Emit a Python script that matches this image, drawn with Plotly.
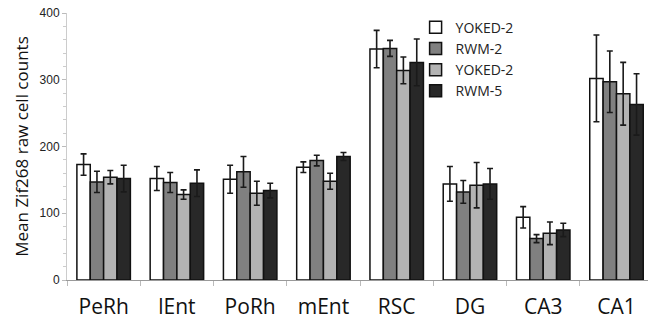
import plotly.graph_objects as go

regions = ["PeRh", "lEnt", "PoRh", "mEnt", "RSC", "DG", "CA3", "CA1"]
series_names = ["YOKED-2", "RWM-2", "YOKED-2", "RWM-5"]
yoked2_a = [173, 152, 151, 169, 346, 144, 94, 302]
yoked2_a_err = [16, 18, 21, 8, 28, 26, 16, 65]
rwm2 = [147, 146, 162, 179, 347, 132, 62, 297]
rwm2_err = [16, 15, 23, 8, 12, 17, 6, 46]
yoked2_b = [154, 128, 130, 148, 314, 142, 70, 279]
yoked2_b_err = [10, 7, 18, 12, 20, 34, 17, 47]
rwm5 = [152, 145, 134, 185, 326, 144, 75, 263]
rwm5_err = [20, 20, 11, 6, 35, 23, 10, 46]

values = [yoked2_a, rwm2, yoked2_b, rwm5]
errors = [yoked2_a_err, rwm2_err, yoked2_b_err, rwm5_err]
colors = ["#ffffff", "#808080", "#b3b3b3", "#282828"]

fig = go.Figure()
for name, vals, errs, col in zip(series_names, values, errors, colors):
    fig.add_trace(go.Bar(
        x=regions, y=vals, name=name,
        marker=dict(color=col, line=dict(color="#111111", width=1.5)),
        error_y=dict(type="data", array=errs, visible=True,
                     color="#1a1a1a", thickness=1.6, width=3),
    ))

fig.update_layout(
    width=648, height=325,
    margin=dict(l=67, r=0, t=13, b=45),
    paper_bgcolor="white", plot_bgcolor="white",
    barmode="group", bargap=0.27, bargroupgap=0,
    showlegend=True,
    legend=dict(x=0.6, y=1.005, xanchor="left", yanchor="top",
                font=dict(family="Open Sans", size=14, color="#222222"),
                bgcolor="rgba(0,0,0,0)", itemwidth=30, tracegroupgap=0),
    font=dict(family="Liberation Sans", color="#222222"),
)
fig.update_xaxes(
    type="category", range=[-0.5, 7.43], automargin=False,
    showline=True, linecolor="#999999", linewidth=1,
    ticks="outside", tickson="boundaries", ticklen=5, tickcolor="#bbbbbb",
    tickfont=dict(family="Open Sans", size=21, color="#111111"),
    ticklabelstandoff=8,
    showgrid=False,
)
fig.update_yaxes(
    range=[0, 400], tickvals=[0, 100, 200, 300, 400], automargin=False,
    showline=True, linecolor="#cccccc", linewidth=1,
    ticks="outside", ticklen=4, tickcolor="#bbbbbb",
    minor=dict(dtick=20, ticks="outside", ticklen=3, tickcolor="#cccccc", showgrid=False),
    tickfont=dict(family="Liberation Sans", size=12, color="#222222"),
    showgrid=False, zeroline=False,
    title=dict(text="Mean Zif268 raw cell counts",
               font=dict(family="Open Sans", size=17, color="#111111"), standoff=6),
)

fig.write_html("out.html", config={"displayModeBar": False},
               post_script="document.body.style.margin='0';document.body.style.overflow='hidden';")
